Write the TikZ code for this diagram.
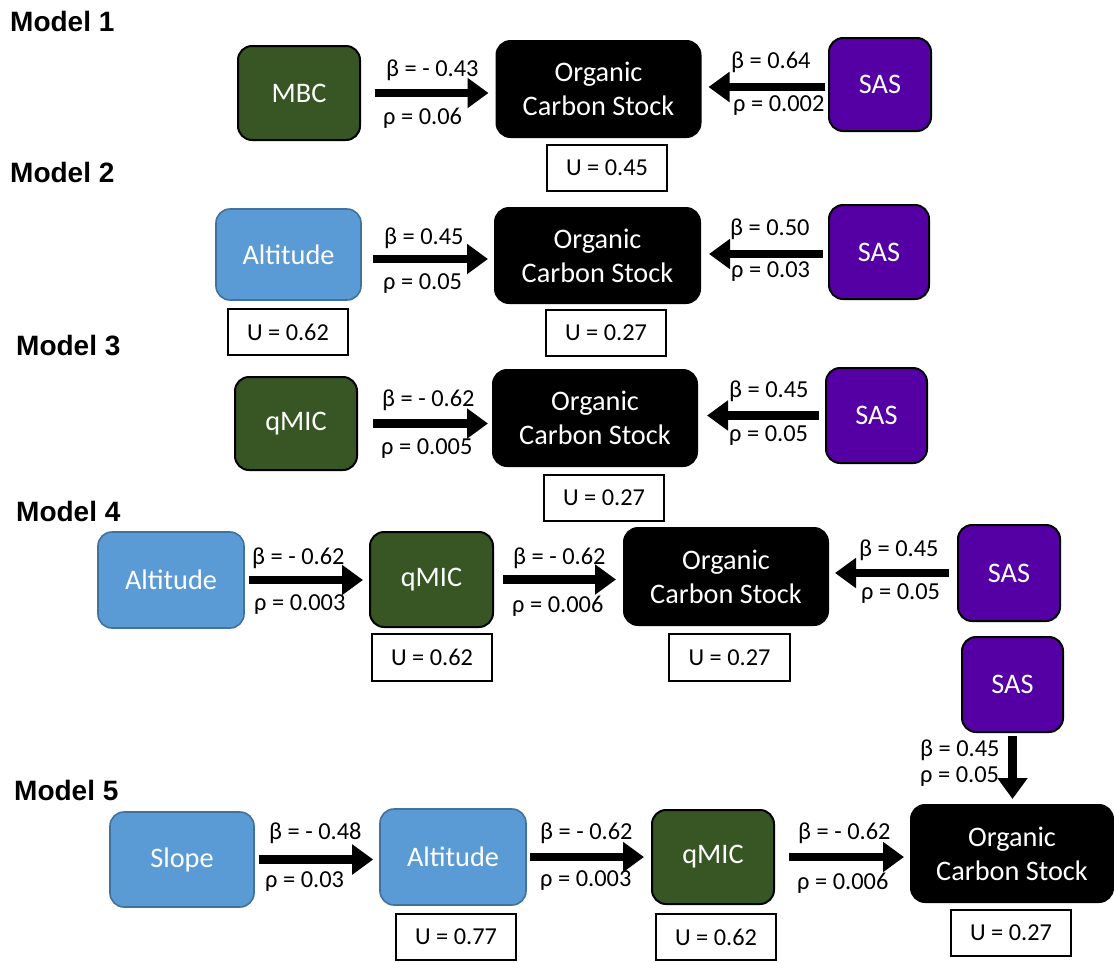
\documentclass[tikz,border=0pt]{standalone}
\usepackage{fontspec}
\setmainfont{Carlito}
\newfontfamily\titlefont{Liberation Sans}
\usetikzlibrary{arrows.meta}
\definecolor{mgreen}{HTML}{375623}
\definecolor{mblue}{HTML}{5B9BD5}
\definecolor{mblueline}{HTML}{41719C}
\definecolor{mpurple}{RGB}{84,0,164}
\tikzset{
  sz/.style 2 args={minimum width=#1pt, minimum height=#2pt},
  var/.style={rounded corners=14pt, line width=2pt, text=white, align=center,
    inner sep=0pt, font=\fontsize{28.3}{34}\selectfont},
  greenbox/.style={var, fill=mgreen, draw=black},
  bluebox/.style={var, fill=mblue, draw=mblueline, line width=1.6pt},
  purplebox/.style={var, fill=mpurple, draw=black},
  ocsbox/.style={var, fill=black, draw=black, sz={204}{96}},
  ubox/.style={draw=black, line width=2pt, fill=white, inner sep=0pt, sz={120}{46},
    font=\fontsize{24.3}{28}\selectfont},
  lbl/.style={anchor=west, inner sep=0pt, font=\fontsize{24.4}{28}\selectfont},
  title/.style={anchor=west, inner sep=0pt, font=\titlefont\bfseries\fontsize{28}{33}\selectfont},
  flow/.style={line width=8.5pt, -{Triangle[length=21pt,width=29pt]}},
}
\begin{document}
\begin{tikzpicture}[x=1pt,y=-1pt]
\useasboundingbox (0,0) rectangle (1114,962);

% ---------- Model 1 ----------
\node[title] (t1) at (10,21) {Model 1};
\node[greenbox, sz={122}{94}] (mbc1) at (299,93) {MBC};
\node[ocsbox] (ocs1) at (598.5,89) {Organic\\Carbon Stock};
\node[ubox] (u1) at (607,168) {U = 0.45};
\node[purplebox, sz={102}{93}] (sas1) at (880,84.5) {SAS};
\draw[flow, shorten <=14pt, shorten >=7pt] (mbc1.east) -- (mbc1.east -| ocs1.west);
\draw[flow, shorten <=3pt, shorten >=7pt] ([yshift=-2.5pt]sas1.west) -- ([yshift=-2.5pt]sas1.west -| ocs1.east);
\node[lbl] (b1a) at (386,70) {β = - 0.43};
\node[lbl] (p1a) at (383,118) {ρ = 0.06};
\node[lbl] (b1b) at (731,62) {β = 0.64};
\node[lbl] (p1b) at (733,106) {ρ = 0.002};

% ---------- Model 2 ----------
\node[title] (t2) at (10,172) {Model 2};
\node[bluebox, sz={145}{91}] (alt2) at (288.5,254.5) {Altitude};
\node[ubox] (ua2) at (288,332) {U = 0.62};
\node[ocsbox, sz={205}{95}] (ocs2) at (597.5,255.5) {Organic\\Carbon Stock};
\node[ubox] (u2) at (606,333) {U = 0.27};
\node[purplebox, sz={100}{94}] (sas2) at (879,252) {SAS};
\draw[flow, shorten <=11pt, shorten >=6pt] ([yshift=-4.5pt]alt2.east) -- ([yshift=-4.5pt]alt2.east -| ocs2.west);
\draw[flow, shorten <=5pt, shorten >=8pt] ([yshift=-2pt]sas2.west) -- ([yshift=-2pt]sas2.west -| ocs2.east);
\node[lbl] (b2a) at (384,238) {β = 0.45};
\node[lbl] (p2a) at (383,284) {ρ = 0.05};
\node[lbl] (b2b) at (730,229) {β = 0.50};
\node[lbl] (p2b) at (731,272) {ρ = 0.03};

% ---------- Model 3 ----------
\node[title] (t3) at (16,346) {Model 3};
\node[greenbox, sz={122}{93}] (qm3) at (296,423.5) {qMIC};
\node[ocsbox] (ocs3) at (595,418) {Organic\\Carbon Stock};
\node[ubox] (u3) at (604,498) {U = 0.27};
\node[purplebox, sz={101}{95}] (sas3) at (876.5,415.5) {SAS};
\draw[flow, shorten <=15pt, shorten >=4pt] (qm3.east) -- (qm3.east -| ocs3.west);
\draw[flow, shorten <=6pt, shorten >=9pt] (sas3.west) -- (sas3.west -| ocs3.east);
\node[lbl] (b3a) at (382,400) {β = - 0.62};
\node[lbl] (p3a) at (381,449) {ρ = 0.005};
\node[lbl] (b3b) at (729,391) {β = 0.45};
\node[lbl] (p3b) at (729,436) {ρ = 0.05};

% ---------- Model 4 ----------
\node[title] (t4) at (16,511) {Model 4};
\node[bluebox, sz={146}{96}] (alt4) at (171,580) {Altitude};
\node[greenbox, sz={123}{95}] (qm4) at (431.5,579.5) {qMIC};
\node[ubox, sz={120}{47}] (uq4) at (432,657.5) {U = 0.62};
\node[ocsbox, sz={204}{97}] (ocs4) at (726,576.5) {Organic\\Carbon Stock};
\node[ubox, sz={121}{47}] (u4) at (729.5,657.5) {U = 0.27};
\node[purplebox, sz={102}{96}] (sas4) at (1009,573) {SAS};
\draw[flow, shorten <=4pt, shorten >=6pt] (alt4.east) -- (alt4.east -| qm4.west);
\draw[flow, shorten <=9pt, shorten >=7pt] (qm4.east) -- (qm4.east -| ocs4.west);
\draw[flow, shorten <=8pt, shorten >=6pt] (sas4.west) -- (sas4.west -| ocs4.east);
\node[lbl] (b4a) at (252,558) {β = - 0.62};
\node[lbl] (p4a) at (254,605) {ρ = 0.003};
\node[lbl] (b4b) at (513,558) {β = - 0.62};
\node[lbl] (p4b) at (512,606) {ρ = 0.006};
\node[lbl] (b4c) at (859,550) {β = 0.45};
\node[lbl] (p4c) at (861,594) {ρ = 0.05};

% ---------- Model 5 ----------
\node[title] (t5) at (14,790) {Model 5};
\node[purplebox, sz={101}{95}] (sas5) at (1012.5,684.5) {SAS};
\node[bluebox, sz={144}{95}] (slope5) at (182,859.5) {Slope};
\node[bluebox, sz={146}{96}] (alt5) at (453,857) {Altitude};
\node[ubox] (ua5) at (456,937) {U = 0.77};
\node[greenbox, sz={122}{94}] (qm5) at (713,857) {qMIC};
\node[ubox] (uq5) at (716,937) {U = 0.62};
\node[ocsbox, sz={202}{97}] (ocs5) at (1012,853.5) {Organic\\Carbon Stock};
\node[ubox] (u5) at (1011,933) {U = 0.27};
\draw[flow, shorten <=4pt, shorten >=6pt] (slope5.east) -- (slope5.east -| alt5.west);
\draw[flow, shorten <=3pt, shorten >=7pt] (alt5.east) -- (alt5.east -| qm5.west);
\draw[flow, shorten <=14pt, shorten >=6pt] (qm5.east) -- (qm5.east -| ocs5.west);
\draw[flow, shorten <=3pt, shorten >=5pt] (sas5.south) -- (sas5.south |- ocs5.north);
\node[lbl] (b5a) at (269,833) {β = - 0.48};
\node[lbl] (p5a) at (265,882) {ρ = 0.03};
\node[lbl] (b5b) at (540,833) {β = - 0.62};
\node[lbl] (p5b) at (540,881) {ρ = 0.003};
\node[lbl] (b5c) at (798,833) {β = - 0.62};
\node[lbl] (p5c) at (797,883) {ρ = 0.006};
\node[lbl] (b5d) at (920,750) {β = 0.45};
\node[lbl] (p5d) at (920,777) {ρ = 0.05};
\end{tikzpicture}
\end{document}
